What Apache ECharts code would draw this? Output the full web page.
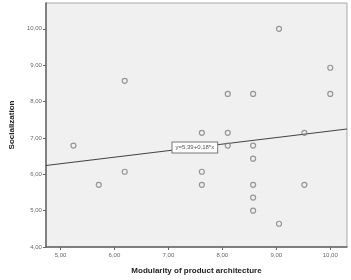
<!DOCTYPE html>
<html>
<head>
<meta charset="utf-8">
<script src="https://cdn.jsdelivr.net/npm/echarts@6/dist/echarts.min.js"></script>
<style>
  html, body { margin: 0; padding: 0; background: #fff; }
  #chart { width: 351px; height: 280px; }
</style>
</head>
<body>
<div id="chart"></div>
<script>
// 散点数据 (modularity, socialization)
const modularity = [5.24, 5.71, 6.19, 6.19, 7.62, 7.62, 7.62, 8.10, 8.10, 8.10, 8.57,
  8.57, 8.57, 8.57, 8.57, 8.57, 9.05, 9.05, 9.52, 9.52, 10.00, 10.00]
const socialization = [6.79, 5.71, 8.57, 6.07, 7.14, 6.07, 5.71, 8.21, 7.14, 6.79, 8.21,
  6.79, 6.43, 5.71, 5.36, 5.00, 10.00, 4.64, 7.14, 5.71, 8.93, 8.21]
const xTicks = [5, 6, 7, 8, 9, 10]
const yTicks = [4, 5, 6, 7, 8, 9, 10]
// 回归线
const intercept = 5.39
const slope = 0.18
const fitLabel = 'y=5,39+0,18*x'

const xMin = 4.73
const xMax = 10.31
const yMin = 4
const yMax = 10.71

const fmt = (v) => v.toFixed(2).replace('.', ',')
const points = modularity.map((x, i) => [x, socialization[i]])
const fitAt = (x) => intercept + slope * x
const labelX = 7.49

const myChart = echarts.init(document.getElementById('chart'))
const option = {
  animation: false,
  grid: {
    left: 38,
    top: 3,
    right: 4,
    bottom: 30,
    show: true,
    backgroundColor: '#f0f0f0',
    borderColor: '#a8a8a8',
    borderWidth: 1
  },
  xAxis: {
    type: 'value',
    min: xMin,
    max: xMax,
    name: 'Modularity of product architecture',
    nameLocation: 'middle',
    nameGap: 20,
    nameTextStyle: { color: '#222', fontSize: 8, fontWeight: 'bold', fontFamily: 'Arial' },
    axisLine: { show: true, onZero: false, lineStyle: { color: '#666', width: 1.5 } },
    axisTick: { show: true, length: 3, customValues: xTicks, lineStyle: { color: '#666' } },
    axisLabel: {
      customValues: xTicks,
      formatter: fmt,
      color: '#666',
      fontSize: 6,
      margin: 5,
      fontFamily: 'Arial'
    },
    splitLine: { show: false }
  },
  yAxis: {
    type: 'value',
    min: yMin,
    max: yMax,
    name: 'Socialization',
    nameLocation: 'middle',
    nameGap: 29,
    nameTextStyle: { color: '#222', fontSize: 8, fontWeight: 'bold', fontFamily: 'Arial' },
    axisLine: { show: true, onZero: false, lineStyle: { color: '#666', width: 1.5 } },
    axisTick: { show: true, length: 3, customValues: yTicks, lineStyle: { color: '#666' } },
    axisLabel: {
      customValues: yTicks,
      formatter: fmt,
      color: '#666',
      fontSize: 6,
      margin: 4,
      fontFamily: 'Arial'
    },
    splitLine: { show: false }
  },
  series: [
    {
      type: 'line',
      data: [[xMin, fitAt(xMin)], [xMax, fitAt(xMax)]],
      symbol: 'none',
      lineStyle: { color: '#444', width: 1.2 },
      silent: true,
      z: 2,
      markPoint: {
        symbolSize: 0,
        data: [{ coord: [labelX, fitAt(labelX)] }],
        label: {
          show: true,
          position: 'inside',
          formatter: fitLabel,
          color: '#555',
          fontSize: 6,
          fontFamily: 'Arial',
          backgroundColor: '#fff',
          borderColor: '#777',
          borderWidth: 1,
          padding: [2, 3]
        }
      }
    },
    {
      type: 'scatter',
      data: points,
      symbol: 'circle',
      symbolSize: 5,
      itemStyle: { color: 'rgba(0,0,0,0)', borderColor: '#808080', borderWidth: 1.2 },
      z: 3
    }
  ]
}
myChart.setOption(option)
window.addEventListener('resize', function() {
  myChart.resize()
})
</script>
</body>
</html>
